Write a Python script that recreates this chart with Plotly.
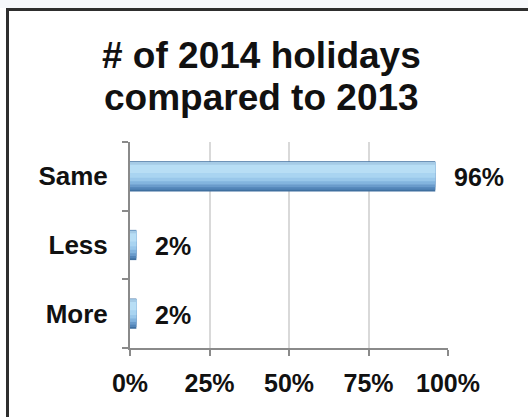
import plotly.graph_objects as go

categories = ["More", "Less", "Same"]
values = [2, 2, 96]
labels = ["2%", "2%", "96%"]
x_ticks = [0, 25, 50, 75, 100]
x_ticktext = ["0%", "25%", "50%", "75%", "100%"]
title_lines = ["# of 2014 holidays", "compared to 2013"]

FONT = "Liberation Sans, Arial, sans-serif"
W, H = 528, 417
L, R, T, B = 130, 80, 142, 69
pw, ph = W - L - R, H - T - B

def px_x(px):
    return (px - L) / pw

def px_y(py):
    return (H - B - py) / ph

fig = go.Figure()

bw = 0.44
# (bottom offset, width, colour) layers faking the bevelled gradient
layers = [
    (-bw / 2, bw, "#3f6f9f"),
    (-0.195, 0.40, "#5385b8"),
    (-0.16, 0.365, "#6a9bcb"),
    (-0.12, 0.325, "#83b4de"),
    (-0.07, 0.275, "#99c7ea"),
    (-0.02, 0.22, "#a9d4f1"),
    (0.05, 0.15, "#b8def5"),
    (0.17, 0.04, "#a6cbe6"),
]
for off, w, col in layers:
    fig.add_trace(go.Bar(
        y=categories, x=values, orientation="h",
        offset=off, width=w,
        marker=dict(color=col, line=dict(width=0)),
        hoverinfo="skip", showlegend=False,
    ))

for c, v, t in zip(categories, values, labels):
    fig.add_annotation(x=v, y=c, text="<b>%s</b>" % t, showarrow=False, xanchor="left",
                       xshift=17, yshift=-1, font=dict(family=FONT, size=25, color="#111"))

for i, line in enumerate(title_lines):
    fig.add_annotation(x=px_x(261), y=px_y(56 + i * 41), xref="paper", yref="paper",
                       text="<b>%s</b>" % line, showarrow=False,
                       xanchor="center", yanchor="middle",
                       font=dict(family=FONT, size=37, color="#111"))

# outer frame: light strip above, dark top edge and left edge
fig.add_shape(type="rect", xref="paper", yref="paper",
              x0=px_x(0), x1=px_x(528), y0=px_y(8), y1=px_y(0),
              fillcolor="#f6f8fb", line=dict(width=0), layer="below")
fig.add_shape(type="rect", xref="paper", yref="paper",
              x0=px_x(6), x1=px_x(528), y0=px_y(11), y1=px_y(8),
              fillcolor="#2e2e2e", line=dict(width=0))
fig.add_shape(type="rect", xref="paper", yref="paper",
              x0=px_x(6), x1=px_x(9), y0=px_y(417), y1=px_y(8),
              fillcolor="#2e2e2e", line=dict(width=0))

fig.update_layout(
    width=W, height=H,
    margin=dict(l=L, r=R, t=T, b=B, pad=0),
    paper_bgcolor="white", plot_bgcolor="white",
    barmode="overlay",
    showlegend=False,
    font=dict(family=FONT, color="#111"),
    xaxis=dict(
        range=[0, 100], tickvals=x_ticks, ticktext=["<b>%s</b>" % t for t in x_ticktext],
        showgrid=True, gridcolor="#d9d9d9", gridwidth=2,
        showline=True, linecolor="#8a8a8a", linewidth=2,
        ticks="outside", ticklen=6, tickwidth=2, tickcolor="#8a8a8a",
        tickfont=dict(family=FONT, size=25, color="#111"),
        ticklabelstandoff=6, zeroline=False, fixedrange=True,
    ),
    yaxis=dict(
        categoryorder="array", categoryarray=categories,
        range=[-0.5, 2.5],
        tickmode="array", tickvals=categories,
        ticktext=["<b>%s</b>" % c for c in categories],
        showline=True, linecolor="#8a8a8a", linewidth=2,
        ticks="outside", ticklen=6, tickwidth=2, tickcolor="#8a8a8a",
        tickson="boundaries",
        tickfont=dict(family=FONT, size=26, color="#111"),
        ticklabelstandoff=15, showgrid=False, zeroline=False, fixedrange=True,
    ),
)

fig.write_html("out.html", config={"displayModeBar": False})
